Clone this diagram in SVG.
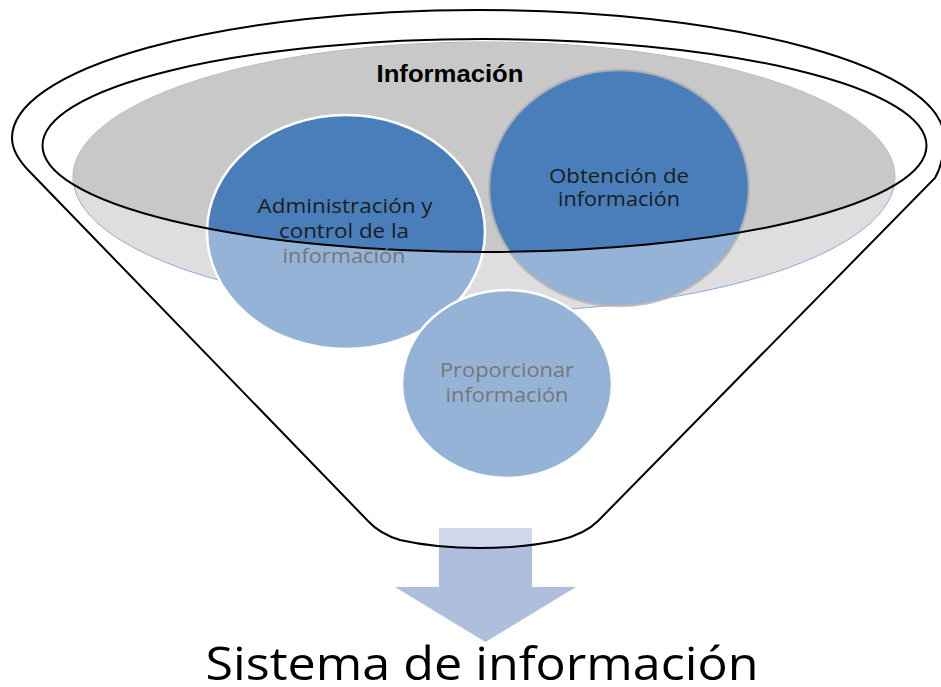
<svg xmlns="http://www.w3.org/2000/svg" width="941" height="687" viewBox="0 0 941 687">
<style>
.t{font-family:"Open Sans","Liberation Sans",sans-serif;font-size:20px;text-anchor:middle}
.dk{fill:#1c1c1c}
.lt{fill:#777777}
</style>
<defs>
<clipPath id="inner"><ellipse cx="484.5" cy="145.5" rx="442" ry="106.5"/></clipPath>
</defs>
<rect width="941" height="687" fill="#ffffff"/>
<g id="arrow">
<path d="M439 528 H532 V587 H576 L485.5 642 L395 587 H439 Z" fill="#adbfdc"/>
</g>
<g id="funnel">
<path d="M368 521 L30 172 C18 160 12 150 12 138 A466 128 0 0 1 944 138 C944 152 942 166 935 178 L598 521 Q585 534 560 540 Q525 548 480 548 Q435 548 400 540 Q380 534 368 521 Z" fill="#ffffff" fill-opacity="0.4" stroke="#000000" stroke-width="2"/>
</g>
<g id="informacion">
<ellipse cx="484" cy="177" rx="411" ry="135" fill="#dedede" stroke="#8eaadb" stroke-width="1"/>
</g>
<g id="admin">
<ellipse cx="346" cy="232" rx="139" ry="117" fill="#95b3d7"/>
</g>
<g id="obtencion">
<ellipse cx="619" cy="188" rx="130" ry="118" fill="#95b3d7"/>
</g>
<g clip-path="url(#inner)">
<ellipse cx="484" cy="177" rx="411" ry="135" fill="#c8c8c8"/>
<ellipse cx="346" cy="232" rx="139" ry="117" fill="#4a7ebb"/>
<ellipse cx="619" cy="188" rx="130" ry="118" fill="#4a7ebb"/>
</g>
<ellipse cx="346" cy="232" rx="139" ry="117" fill="none" stroke="#ffffff" stroke-width="2.5"/>
<ellipse cx="619" cy="188" rx="130" ry="118" fill="none" stroke="#b4b4b4" stroke-width="2.5" stroke-opacity="0.8"/>
<g id="proporcionar">
<ellipse cx="507" cy="384" rx="105" ry="94" fill="#95b3d7" stroke="#ffffff" stroke-width="2.5"/>
</g>
<g id="connectors">
<ellipse cx="484.5" cy="145.5" rx="442" ry="106.5" fill="none" stroke="#000000" stroke-width="2"/>
</g>
<text x="450" y="82" font-family="'Liberation Sans',Arial,sans-serif" font-weight="bold" font-size="23" text-anchor="middle" fill="#000000" textLength="147" lengthAdjust="spacingAndGlyphs">Información</text>
<text class="t dk" x="345" y="213" textLength="175" lengthAdjust="spacingAndGlyphs">Administración y</text>
<text class="t dk" x="344" y="238" textLength="130" lengthAdjust="spacingAndGlyphs">control de la</text>
<text class="t lt" x="344" y="263" textLength="123" lengthAdjust="spacingAndGlyphs">información</text>
<text class="t dk" x="619" y="183" textLength="140" lengthAdjust="spacingAndGlyphs">Obtención de</text>
<text class="t dk" x="619" y="206" textLength="122" lengthAdjust="spacingAndGlyphs">información</text>
<text class="t lt" x="507" y="377" textLength="134" lengthAdjust="spacingAndGlyphs">Proporcionar</text>
<text class="t lt" x="507" y="402" textLength="123" lengthAdjust="spacingAndGlyphs">información</text>
<text x="482" y="680" font-family="'Open Sans','Liberation Sans',sans-serif" font-size="46" text-anchor="middle" fill="#000000" textLength="553" lengthAdjust="spacingAndGlyphs">Sistema de información</text>
</svg>
